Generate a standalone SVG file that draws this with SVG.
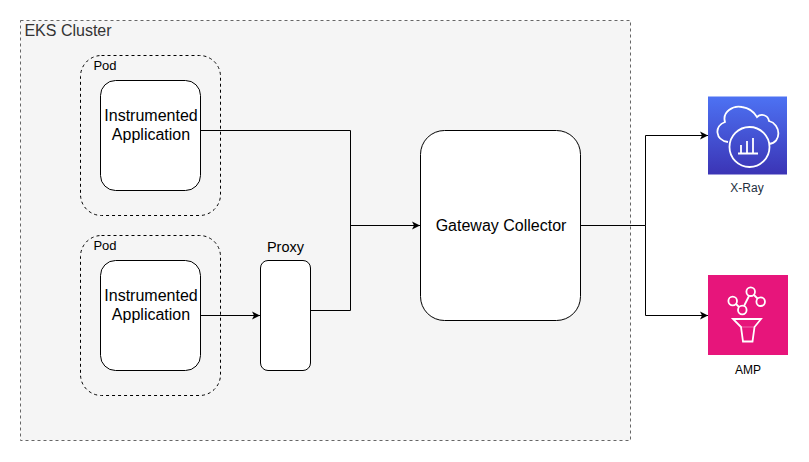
<svg xmlns="http://www.w3.org/2000/svg" width="809" height="462" viewBox="0 0 809 462">
<style>
text{font-family:"Liberation Sans",Arial,sans-serif;text-anchor:middle;fill:#000}
.box{fill:#fff;stroke:#000;stroke-width:1}
.pod{fill:none;stroke:#000;stroke-width:1;stroke-dasharray:3 3}
.conn{fill:none;stroke:#000;stroke-width:1;marker-end:url(#a)}
.line{fill:none;stroke:#000;stroke-width:1}
.ic{fill:none;stroke:#fff;stroke-width:1.800}
.t{font-size:16px}
</style>
<defs>
<marker id="a" markerUnits="userSpaceOnUse" markerWidth="10" markerHeight="10" refX="8" refY="4.500" orient="auto"><path d="M0 0.500L8 4.500L0 8.500L2 4.500Z" fill="#000"/></marker>
<linearGradient id="xr" x1="0" y1="1" x2="0" y2="0"><stop offset="0" stop-color="#3b34b5"/><stop offset="1" stop-color="#4d72f3"/></linearGradient>
</defs>
<g id="cluster">
<rect x="20.500" y="20.500" width="610" height="420" fill="#f5f5f5" stroke="#666" stroke-dasharray="3 3"/>
<text x="68" y="36" class="t" style="fill:#333">EKS Cluster</text>
</g>
<g id="pod1">
<rect class="pod" x="80.500" y="55.500" width="140" height="160" rx="21"/>
<text x="105" y="70" font-size="13">Pod</text>
</g>
<g id="pod2">
<rect class="pod" x="80.500" y="235.500" width="140" height="160" rx="21"/>
<text x="105" y="250" font-size="13">Pod</text>
</g>
<g id="connectors">
<path class="line" d="M200.500 130.500H350.500V310.500H310.500"/>
<path class="conn" d="M350.500 225.500H420"/>
<path class="conn" d="M200.500 315.500H260"/>
<path class="line" d="M580.500 225.500H645.500"/>
<path class="conn" d="M645.500 225.500V135.500H708"/>
<path class="conn" d="M645.500 225.500V315.500H708"/>
</g>
<g id="app1">
<rect class="box" x="100.500" y="80.500" width="100" height="110" rx="15"/>
<text x="151" y="121" class="t">Instrumented</text>
<text x="151" y="140" class="t">Application</text>
</g>
<g id="app2">
<rect class="box" x="100.500" y="260.500" width="100" height="110" rx="15"/>
<text x="151" y="301" class="t">Instrumented</text>
<text x="151" y="320" class="t">Application</text>
</g>
<g id="proxy">
<rect class="box" x="260.500" y="260.500" width="50" height="110" rx="7.500"/>
<text x="285.500" y="252" font-size="14.500">Proxy</text>
</g>
<g id="gateway">
<rect class="box" x="420.500" y="130.500" width="160" height="190" rx="24"/>
<text x="501" y="231" class="t">Gateway Collector</text>
</g>
<g id="xray">
<rect x="708" y="96.500" width="79" height="78" fill="url(#xr)"/>
<path class="ic" d="M728 142C715 140 714 126 725 122C722 112 733 105 742 107C750 108 754 112 757 117C761 113 768 115 769 121C781 124 782 143 769 144"/>
<circle class="ic" cx="749.500" cy="147" r="20"/>
<path class="ic" d="M738 153.500H758M741 153V145M747 153V141M753 153V138"/>
<text x="747" y="192" font-size="12" style="fill:#232f3e">X-Ray</text>
</g>
<g id="amp">
<rect x="708" y="275" width="80" height="80" fill="#e7157b"/>
<circle cx="732.700" cy="301" r="4.300" class="ic"/><circle cx="742.300" cy="310" r="4.300" class="ic"/><circle cx="750.700" cy="291.700" r="4.300" class="ic"/><circle cx="760.700" cy="301.700" r="4.300" class="ic"/>
<path class="ic" d="M736 304L739 307M744 306L749 296M754 295L757.500 298.500M733 319H761L754.500 327L752.500 341.500H743L741 327Z"/>
<path d="M741 327H754.500" fill="none" stroke="#fff" stroke-width="0.600" stroke-opacity="0.600"/>
<text x="748" y="374" font-size="12">AMP</text>
</g>
</svg>
